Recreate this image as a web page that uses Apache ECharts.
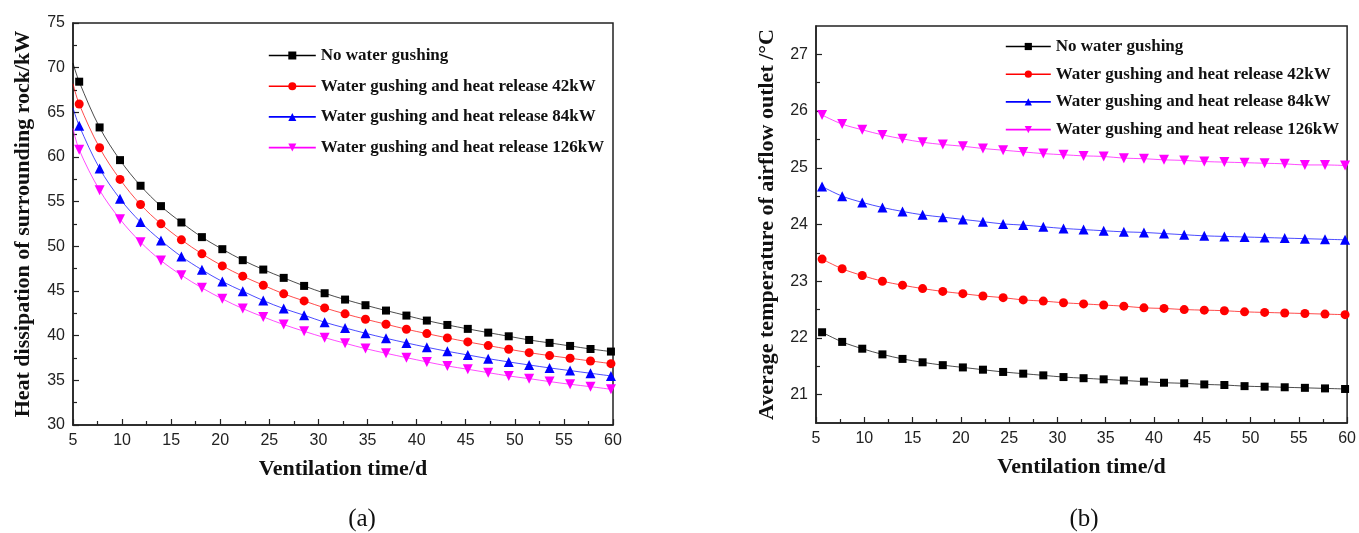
<!DOCTYPE html>
<html>
<head>
<meta charset="utf-8">
<title>Ventilation time response</title>
<script src="https://cdn.jsdelivr.net/npm/echarts@6/dist/echarts.min.js"></script>
<style>
  html, body { margin: 0; padding: 0; background: #ffffff; }
  #chart { width: 1359px; height: 533px; }
</style>
</head>
<body>
<div id="chart"></div>
<script>
// Ventilation time (days) at each sampled point
const days = [5.63, 7.71, 9.79, 11.88, 13.96, 16.04, 18.13, 20.21, 22.29, 24.38, 26.46, 28.54, 30.63, 32.71,
  34.79, 36.88, 38.96, 41.04, 43.13, 45.21, 47.29, 49.38, 51.46, 53.54, 55.63, 57.71, 59.79];

const seriesNames = [
  'No water gushing',
  'Water gushing and heat release 42kW',
  'Water gushing and heat release 84kW',
  'Water gushing and heat release 126kW'
];

// (a) Heat dissipation of surrounding rock, kW
const heatStart = [70.5, 68.2, 65.5, 63.2];   // curve value at day 5 (no marker)
const heatNone = [68.43, 63.31, 59.65, 56.78, 54.50, 52.67, 51.03, 49.68, 48.45, 47.40, 46.47, 45.57, 44.75, 44.04,
  43.41, 42.81, 42.25, 41.69, 41.20, 40.76, 40.34, 39.93, 39.52, 39.19, 38.85, 38.51, 38.22];
const heat42 = [65.93, 61.03, 57.49, 54.68, 52.52, 50.73, 49.16, 47.81, 46.66, 45.65, 44.68, 43.89, 43.11, 42.44,
  41.84, 41.28, 40.72, 40.23, 39.75, 39.30, 38.89, 38.48, 38.10, 37.77, 37.47, 37.17, 36.87];
const heat84 = [63.50, 58.72, 55.32, 52.71, 50.65, 48.86, 47.37, 46.06, 44.98, 43.93, 43.03, 42.29, 41.50, 40.87,
  40.27, 39.71, 39.19, 38.70, 38.25, 37.84, 37.43, 37.06, 36.72, 36.39, 36.09, 35.79, 35.49];
const heat126 = [60.81, 56.29, 53.04, 50.47, 48.41, 46.77, 45.35, 44.12, 43.03, 42.10, 41.24, 40.49, 39.78, 39.15,
  38.55, 38.03, 37.54, 37.06, 36.61, 36.24, 35.86, 35.49, 35.19, 34.86, 34.56, 34.29, 34.00];

// (b) Average airflow temperature at the outlet, °C
const tempNone = [22.10, 21.93, 21.81, 21.71, 21.63, 21.57, 21.52, 21.48, 21.44, 21.40, 21.37, 21.34, 21.31, 21.29,
  21.27, 21.25, 21.23, 21.21, 21.20, 21.18, 21.17, 21.15, 21.14, 21.13, 21.12, 21.11, 21.10];
const temp42 = [23.39, 23.22, 23.10, 23.00, 22.93, 22.87, 22.82, 22.78, 22.74, 22.71, 22.67, 22.65, 22.62, 22.60,
  22.58, 22.56, 22.53, 22.52, 22.50, 22.49, 22.48, 22.46, 22.45, 22.44, 22.43, 22.42, 22.41];
const temp84 = [24.67, 24.50, 24.39, 24.30, 24.23, 24.17, 24.13, 24.09, 24.05, 24.01, 23.99, 23.96, 23.93, 23.91,
  23.89, 23.87, 23.86, 23.84, 23.82, 23.80, 23.79, 23.78, 23.77, 23.76, 23.75, 23.74, 23.73];
const temp126 = [25.93, 25.77, 25.67, 25.58, 25.51, 25.45, 25.41, 25.38, 25.34, 25.31, 25.28, 25.25, 25.23, 25.21,
  25.20, 25.17, 25.16, 25.14, 25.13, 25.11, 25.10, 25.09, 25.08, 25.07, 25.05, 25.05, 25.04];

// Tick labels
const xTicks = [5, 10, 15, 20, 25, 30, 35, 40, 45, 50, 55, 60];
const heatTicks = [30, 35, 40, 45, 50, 55, 60, 65, 70, 75];
const tempTicks = [21, 22, 23, 24, 25, 26, 27];
const tempMinorTicks = [21.5, 22.5, 23.5, 24.5, 25.5, 26.5];

const colors = ['#000000', '#ff0000', '#0000ff', '#ff00ff'];
const symbols = ['rect', 'circle', 'triangle', 'triangle'];
const rotations = [0, 0, 0, 180];

const heatSets = [heatNone, heat42, heat84, heat126];
const tempSets = [tempNone, temp42, temp84, temp126];

const AXIS_COLOR = '#222222';
const SERIF = 'Liberation Serif, Times New Roman, serif';
const labelFont = { fontFamily: 'Liberation Sans, Arial, sans-serif', fontSize: 16, color: AXIS_COLOR };
const titleFont = { fontFamily: SERIF, fontWeight: 'bold', fontSize: 22, color: '#111111' };

function xAxisFor(gridIndex) {
  return {
    type: 'value', gridIndex, min: 5, max: 60, interval: 5,
    name: 'Ventilation time/d', nameLocation: 'middle', nameGap: 33, nameTextStyle: titleFont,
    axisLine: { lineStyle: { color: AXIS_COLOR, width: 1.5 } },
    axisTick: { inside: true, length: 6, lineStyle: { color: AXIS_COLOR, width: 1.2 } },
    minorTick: { show: true, splitNumber: 2, length: 4, lineStyle: { color: AXIS_COLOR, width: 1.2 } },
    axisLabel: Object.assign({ margin: 8, formatter: v => (xTicks.includes(v) ? String(v) : '') }, labelFont),
    splitLine: { show: false }
  };
}

function buildSeries(sets, axisIndex, startVals) {
  return sets.map((vals, i) => {
    const pts = days.map((d, k) => [d, vals[k]]);
    if (startVals) pts.unshift({ value: [5, startVals[i]], symbol: 'none' });
    return {
      name: seriesNames[i], type: 'line',
      xAxisIndex: axisIndex, yAxisIndex: axisIndex,
      data: pts, smooth: 0.35,
      symbol: symbols[i], symbolRotate: rotations[i],
      symbolSize: symbols[i] === 'rect' ? 8 : (symbols[i] === 'circle' ? 9 : 10),
      itemStyle: { color: colors[i] },
      lineStyle: { color: colors[i], width: 1, opacity: 0.7 },
      z: 3 + i
    };
  });
}

const legendText = { fontFamily: SERIF, fontWeight: 'bold', fontSize: 17, color: '#111111' };
const legendLine = { width: 1.6, opacity: 1 };

const option = {
  backgroundColor: '#ffffff',
  animation: false,
  grid: [
    { left: 73, top: 23, width: 540, height: 402, show: true, borderColor: AXIS_COLOR, borderWidth: 1.5, backgroundColor: 'transparent' },
    { left: 816, top: 26, width: 534, height: 397, show: true, borderColor: AXIS_COLOR, borderWidth: 1.5, backgroundColor: 'transparent' }
  ],
  legend: [
    {
      data: seriesNames, orient: 'vertical', left: 263, top: 42,
      itemWidth: 47, itemHeight: 10, itemGap: 13.7,
      textStyle: legendText, lineStyle: legendLine, selectedMode: false
    },
    {
      data: seriesNames, orient: 'vertical', left: 1000, top: 33,
      itemWidth: 45, itemHeight: 9, itemGap: 10.7,
      textStyle: legendText, lineStyle: legendLine, selectedMode: false
    }
  ],
  xAxis: [xAxisFor(0), xAxisFor(1)],
  yAxis: [
    {
      type: 'value', gridIndex: 0, min: 30, max: 75, interval: 5, position: 'left',
      name: 'Heat dissipation of surrounding rock/kW', nameLocation: 'middle', nameGap: 39, nameTextStyle: titleFont,
      axisLine: { lineStyle: { color: AXIS_COLOR, width: 1.5 } },
      axisTick: { inside: true, length: 6, lineStyle: { color: AXIS_COLOR, width: 1.2 } },
      minorTick: { show: true, splitNumber: 2, length: 4, lineStyle: { color: AXIS_COLOR, width: 1.2 } },
      axisLabel: Object.assign({ margin: 8, formatter: v => (heatTicks.includes(v) ? String(v) : '') }, labelFont),
      splitLine: { show: false }
    },
    {
      type: 'value', gridIndex: 1, min: 20.5, max: 27.5, position: 'left',
      name: 'Average temperature of airflow outlet /°C', nameLocation: 'middle', nameGap: 38, nameTextStyle: titleFont,
      axisLine: { lineStyle: { color: AXIS_COLOR, width: 1.5 } },
      axisTick: { inside: true, length: 6, customValues: tempTicks, lineStyle: { color: AXIS_COLOR, width: 1.2 } },
      axisLabel: Object.assign({ margin: 8, customValues: tempTicks }, labelFont),
      splitLine: { show: false }
    },
    {
      // half-degree minor ticks on the same scale
      type: 'value', gridIndex: 1, min: 20.5, max: 27.5, position: 'left',
      axisLine: { show: false },
      axisTick: { inside: true, length: 4, customValues: tempMinorTicks, lineStyle: { color: AXIS_COLOR, width: 1.2 } },
      axisLabel: { show: false },
      splitLine: { show: false }
    }
  ],
  graphic: [
    { type: 'text', x: 362, y: 519, style: { text: '(a)', font: '25px "Liberation Serif", "Times New Roman", serif', fill: '#111111', textAlign: 'center', textVerticalAlign: 'middle' } },
    { type: 'text', x: 1084, y: 519, style: { text: '(b)', font: '25px "Liberation Serif", "Times New Roman", serif', fill: '#111111', textAlign: 'center', textVerticalAlign: 'middle' } }
  ],
  series: [].concat(buildSeries(heatSets, 0, heatStart), buildSeries(tempSets, 1, null))
};

const chart = echarts.init(document.getElementById('chart'), null, { renderer: 'canvas' });
chart.setOption(option);
</script>
</body>
</html>
